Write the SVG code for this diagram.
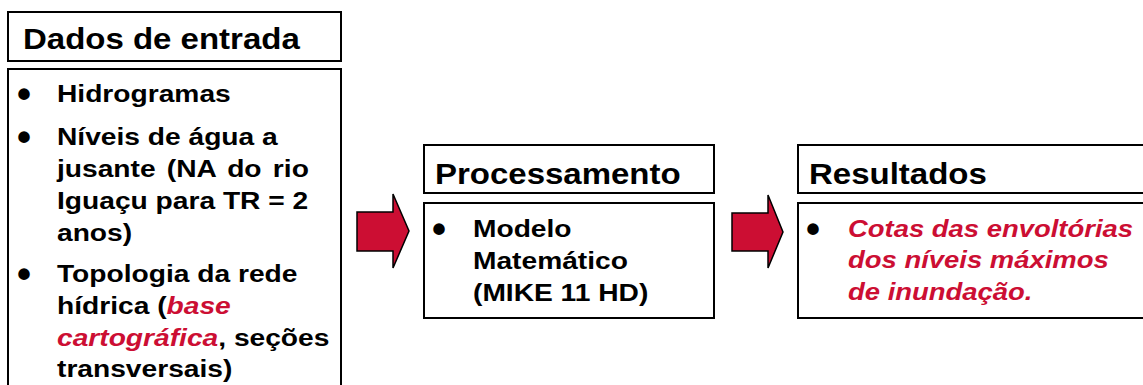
<svg xmlns="http://www.w3.org/2000/svg" width="1143" height="385" viewBox="0 0 1143 385">
<style>
.box{fill:#fff;stroke:#000;stroke-width:2}
.hd{font-family:"Liberation Sans",Arial,sans-serif;font-weight:bold;font-size:30px;fill:#000}
.b{font-family:"Liberation Sans",Arial,sans-serif;font-weight:bold;font-size:24.5px;fill:#000}
.bul{font-family:"Liberation Sans",Arial,sans-serif;font-weight:bold;font-size:40px;fill:#000}
.red{fill:#CC0E33;font-style:italic}
.arrow{fill:#CC0E33;stroke:#000;stroke-width:1.5;stroke-linejoin:miter}
</style>
<rect width="1143" height="385" fill="#fff"/>
<g id="dados">
<rect class="box" x="8" y="12" width="333" height="49"/>
<text class="hd" transform="translate(23 49) scale(1.1 1)">Dados de entrada</text>
<rect class="box" x="8" y="69" width="333" height="330"/>
<text class="bul" x="17" y="108">•</text>
<text class="b" transform="translate(57 102) scale(1.15 1)">Hidrogramas</text>
<text class="bul" x="17" y="151">•</text>
<text class="b" transform="translate(57 145) scale(1.15 1)">Níveis de água a</text>
<text class="b" transform="translate(57 177) scale(1.15 1)" word-spacing="3">jusante (NA do rio</text>
<text class="b" transform="translate(57 209) scale(1.15 1)">Iguaçu para TR = 2</text>
<text class="b" transform="translate(57 241) scale(1.15 1)">anos)</text>
<text class="bul" x="17" y="288">•</text>
<text class="b" transform="translate(57 282) scale(1.15 1)">Topologia da rede</text>
<text class="b" transform="translate(57 314) scale(1.15 1)">hídrica (<tspan class="red">base</tspan></text>
<text class="b" transform="translate(57 346) scale(1.15 1)"><tspan class="red">cartográfica</tspan>, seções</text>
<text class="b" transform="translate(57 377) scale(1.15 1)">transversais)</text>
</g>
<g id="processamento">
<rect class="box" x="424" y="145" width="290" height="48"/>
<text class="hd" transform="translate(435 184) scale(1.1 1)">Processamento</text>
<rect class="box" x="424" y="203" width="290" height="115"/>
<text class="bul" x="432" y="243">•</text>
<text class="b" transform="translate(473 237) scale(1.15 1)">Modelo</text>
<text class="b" transform="translate(473 269) scale(1.15 1)">Matemático</text>
<text class="b" transform="translate(473 301) scale(1.15 1)">(MIKE 11 HD)</text>
</g>
<g id="resultados">
<rect class="box" x="798" y="145" width="360" height="48"/>
<text class="hd" transform="translate(809 184) scale(1.1 1)">Resultados</text>
<rect class="box" x="798" y="203" width="360" height="115"/>
<text class="bul" x="806" y="243">•</text>
<text class="b red" transform="translate(848 237) scale(1.12 1)">Cotas das envoltórias</text>
<text class="b red" transform="translate(848 268) scale(1.12 1)">dos níveis máximos</text>
<text class="b red" transform="translate(848 300) scale(1.12 1)">de inundação.</text>
</g>
<g id="connectors">
<polygon class="arrow" points="357,212 393,212 393,194 409,231 393,268 393,251 357,251"/>
<polygon class="arrow" points="732,213 768,213 768,195 783,232 768,268 768,251 732,251"/>
</g>
</svg>
